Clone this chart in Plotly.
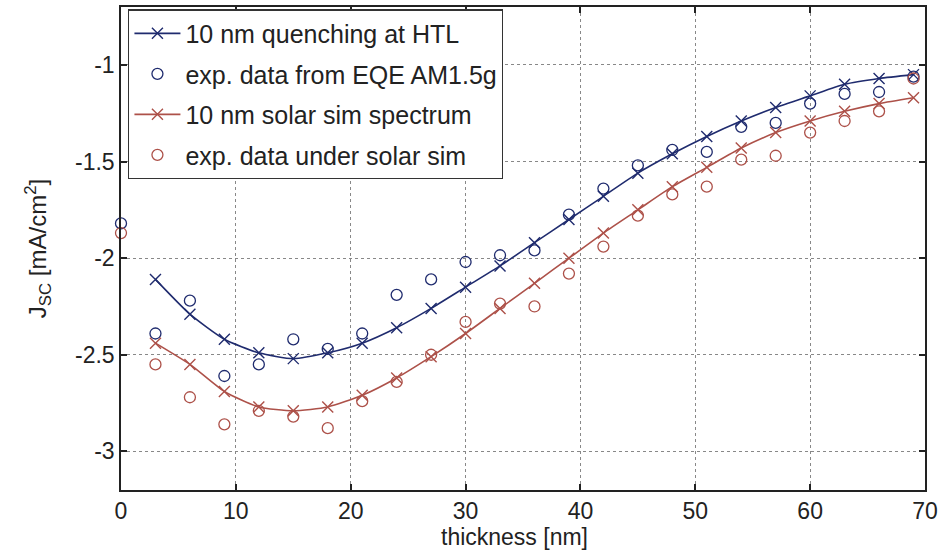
import plotly.graph_objects as go

# ---- data ----
x_model = [3, 6, 9, 12, 15, 18, 21, 24, 27, 30, 33, 36, 39, 42, 45, 48, 51, 54, 57, 60, 63, 66, 69]
x_exp = [0, 3, 6, 9, 12, 15, 18, 21, 24, 27, 30, 33, 36, 39, 42, 45, 48, 51, 54, 57, 60, 63, 66, 69]

quench_htl = [-2.11, -2.29, -2.42, -2.49, -2.52, -2.49, -2.44, -2.36, -2.26, -2.15, -2.04, -1.92,
              -1.80, -1.68, -1.56, -1.46, -1.37, -1.29, -1.22, -1.16, -1.10, -1.07, -1.05]
exp_eqe = [-1.82, -2.39, -2.22, -2.61, -2.55, -2.42, -2.47, -2.39, -2.19, -2.11, -2.02, -1.985,
           -1.96, -1.775, -1.64, -1.52, -1.44, -1.45, -1.32, -1.30, -1.20, -1.15, -1.14, -1.06]
solar_sim = [-2.44, -2.55, -2.69, -2.77, -2.79, -2.77, -2.71, -2.62, -2.51, -2.39, -2.26, -2.13,
             -2.00, -1.87, -1.75, -1.63, -1.53, -1.43, -1.35, -1.29, -1.24, -1.20, -1.17]
exp_solar = [-1.87, -2.55, -2.72, -2.86, -2.79, -2.82, -2.88, -2.74, -2.64, -2.50, -2.33, -2.235,
             -2.25, -2.08, -1.94, -1.78, -1.67, -1.63, -1.49, -1.47, -1.35, -1.29, -1.24, -1.07]

x_ticks = [0, 10, 20, 30, 40, 50, 60, 70]
y_ticks = [-3, -2.5, -2, -1.5, -1]
y_ticktext = ["-3", "-2.5", "-2", "-1.5", "-1"]

names = ["10 nm quenching at HTL", "exp. data from EQE AM1.5g",
         "10 nm solar sim spectrum", "exp. data under solar sim"]
x_title = "thickness [nm]"
y_title = "J<sub>SC</sub> [mA/cm<sup>2</sup>]"

BLUE = "#1f2b6e"
RED = "#ad5149"
FONT = "Liberation Sans, Arial, sans-serif"

fig = go.Figure()
fig.add_trace(go.Scatter(
    x=x_model, y=quench_htl, name=names[0], mode="lines+markers", legendgroup="a",
    line=dict(color=BLUE, width=1.6, shape="spline", smoothing=0.6),
    marker=dict(symbol="x-thin", size=11, line=dict(color=BLUE, width=1.4))))
fig.add_trace(go.Scatter(
    x=x_exp, y=exp_eqe, name=names[1], mode="markers", legendgroup="b", cliponaxis=False,
    marker=dict(symbol="circle-open", size=11, color=BLUE, line=dict(color=BLUE, width=1.3))))
fig.add_trace(go.Scatter(
    x=x_model, y=solar_sim, name=names[2], mode="lines+markers", legendgroup="c",
    line=dict(color=RED, width=1.6, shape="spline", smoothing=0.6),
    marker=dict(symbol="x-thin", size=11, line=dict(color=RED, width=1.4))))
fig.add_trace(go.Scatter(
    x=x_exp, y=exp_solar, name=names[3], mode="markers", legendgroup="d", cliponaxis=False,
    marker=dict(symbol="circle-open", size=11, color=RED, line=dict(color=RED, width=1.3))))

axis_common = dict(
    showline=True, linecolor="#222", linewidth=1.5, mirror="ticks",
    ticks="inside", ticklen=6, tickcolor="#222", tickwidth=1.5,
    showgrid=True, gridcolor="#888", griddash="dot", gridwidth=1,
    zeroline=False, tickfont=dict(family=FONT, size=23, color="#222"),
)

fig.update_layout(
    width=943, height=551,
    margin=dict(l=121, r=17, t=5, b=61),
    paper_bgcolor="white", plot_bgcolor="white",
    font=dict(family=FONT, size=23, color="#222"),
    showlegend=True,
    legend=dict(
        x=0.009, y=0.995, xanchor="left", yanchor="top",
        bgcolor="white", bordercolor="#333", borderwidth=1.2,
        font=dict(family=FONT, size=25, color="#222"),
        traceorder="grouped", tracegroupgap=5, itemwidth=46,
    ),
    xaxis=dict(range=[0, 70], tickvals=x_ticks, **axis_common),
    yaxis=dict(range=[-3.2, -0.7], tickvals=y_ticks, ticktext=y_ticktext,
               title=dict(text=y_title, standoff=22,
                          font=dict(family=FONT, size=24, color="#222")),
               **axis_common),
    annotations=[dict(
        text=x_title, xref="paper", yref="paper", x=0.489, y=-0.098,
        xanchor="center", yanchor="middle", showarrow=False,
        font=dict(family=FONT, size=23, color="#222"))],
)

fig.write_html("out.html")
